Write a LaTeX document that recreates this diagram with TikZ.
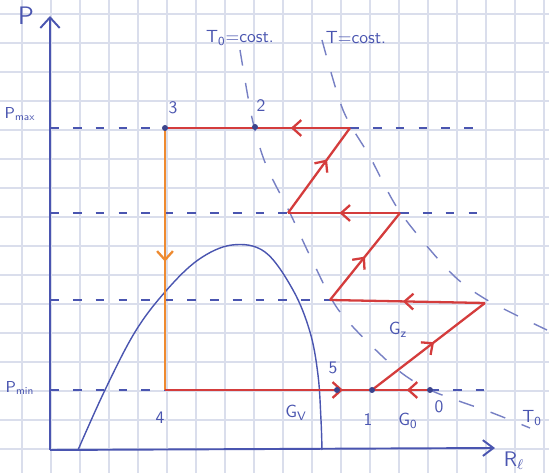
\documentclass[tikz,border=0pt]{standalone}
\usepackage{tikz}
\usetikzlibrary{arrows.meta,decorations.markings}
\definecolor{ink}{HTML}{4A55B0}
\definecolor{redink}{HTML}{D43C3C}
\definecolor{orink}{HTML}{EE8A30}
\definecolor{paper}{HTML}{DADEEC}
\begin{document}
\begin{tikzpicture}[x=0.02cm,y=-0.02cm,
  lbl/.style={ink,font=\sffamily},
  cyc/.style={redink,line width=1.3pt},
  dashln/.style={ink,line width=0.9pt,dash pattern=on 5pt off 8pt},
  iso/.style={ink!75,line width=0.8pt,dash pattern=on 9pt off 10pt},
  midarr/.style={postaction={decorate},decoration={markings,
    mark=at position #1 with {\arrow{Straight Barb[length=5pt,width=9pt]}}}}]
  \useasboundingbox (0,0) rectangle (549,473);
  \fill[white] (0,0) rectangle (549,473);
  % squared paper
  \foreach \gx in {0,...,18}
    \draw[paper,line width=0.9pt] ({22+29*\gx},0) -- ({22+29*\gx},473);
  \foreach \gy in {0,...,15}
    \draw[paper,line width=0.9pt] (0,{14+29*\gy}) -- (549,{14+29*\gy});

  % axes
  \coordinate (orig) at (50,450);
  \coordinate (ytip) at (50,16);
  \coordinate (xtip) at (495,448);
  \draw[ink,line width=1.1pt,-{Straight Barb[length=6pt,width=11pt]}] (orig) -- (ytip);
  \draw[ink,line width=1.1pt,-{Straight Barb[length=6pt,width=9pt]}] (orig) -- (xtip);
  \node[lbl,font=\sffamily\Large] (plab) at (26,16) {P};
  \node[lbl,font=\sffamily\large] (xlab) at (514,461) {R\textsubscript{$\ell$}};

  % cycle points
  \coordinate (p3) at (165,128);
  \coordinate (p2) at (255,127);
  \coordinate (a) at (350,128);
  \coordinate (b) at (288,213);
  \coordinate (c) at (400,213);
  \coordinate (d) at (330,300);
  \coordinate (e) at (485,303);
  \coordinate (p1) at (372,390);
  \coordinate (p0) at (430,390);
  \coordinate (p5) at (337,390);
  \coordinate (p4) at (165,390);

  % pressure levels
  \coordinate (lmax) at (50,128);
  \coordinate (lb) at (50,213);
  \coordinate (ld) at (50,300);
  \coordinate (lmin) at (50,390);
  \coordinate (ra) at (478,128);
  \coordinate (rc) at (488,213);
  \coordinate (r0) at (492,390);
  \draw[dashln] (lmax) -- (p3);
  \draw[dashln] (lb) -- (b);
  \draw[dashln] (ld) -- (d);
  \draw[dashln] (lmin) -- (p4);
  \draw[dashln] (a) -- (ra);
  \draw[dashln] (c) -- (rc);
  \draw[dashln] (p0) -- (r0);
  \node[lbl,font=\sffamily\small] (pmax) at (20,114) {P\textsubscript{max}};
  \node[lbl,font=\sffamily\small] (pmin) at (20,388) {P\textsubscript{min}};

  % saturation dome
  \draw[ink,line width=0.8pt] plot[smooth,tension=0.6] coordinates {(78,450) (105,390) (135,332)
    (165,292) (198,260) (232,245) (265,252) (293,290) (310,332) (318,375) (321,420) (322,450)};

  % isotherms
  \draw[iso] plot[smooth] coordinates {(240,50) (252,118) (266,165) (290,213) (312,260)
    (340,312) (393,366) (430,390) (490,412) (530,428)};
  \draw[iso] plot[smooth] coordinates {(322,40) (343,110) (370,157) (400,212) (450,272)
    (487,300) (547,330)};
  \node[lbl] (t0c) at (240,38) {T\textsubscript{0}=cost.};
  \node[lbl] (tc) at (356,38) {T=cost.};
  \node[lbl] (t0) at (532,418) {T\textsubscript{0}};

  % cycle
  \draw[cyc,midarr=0.4] (p0) -- (p1);
  \draw[cyc,midarr=0.55] (p1) -- (e);
  \draw[cyc,midarr=0.53] (e) -- (d);
  \draw[cyc,midarr=0.5] (d) -- (c);
  \draw[cyc,midarr=0.54] (c) -- (b);
  \draw[cyc,midarr=0.63] (b) -- (a);
  \draw[cyc,midarr=0.32] (a) -- (p3);
  \draw[orink,line width=1.3pt,midarr=0.51] (p3) -- (p4);
  \draw[cyc,midarr=0.86] (p4) -- (p1);
  \foreach \p in {p3,p2,p5,p1,p0}
    \fill[ink!80!black] (\p) circle (3);

  % labels
  \node[lbl] (l3) at (173,108) {3};
  \node[lbl] (l2) at (261,106) {2};
  \node[lbl] (l4) at (160,418) {4};
  \node[lbl] (l5) at (333,368) {5};
  \node[lbl] (l1) at (368,420) {1};
  \node[lbl] (l0) at (439,407) {0};
  \node[lbl] (gv) at (296,413) {G\textsubscript{V}};
  \node[lbl] (go) at (408,421) {G\textsubscript{0}};
  \node[lbl] (gz) at (398,330) {G\textsubscript{z}};
\end{tikzpicture}
\end{document}
